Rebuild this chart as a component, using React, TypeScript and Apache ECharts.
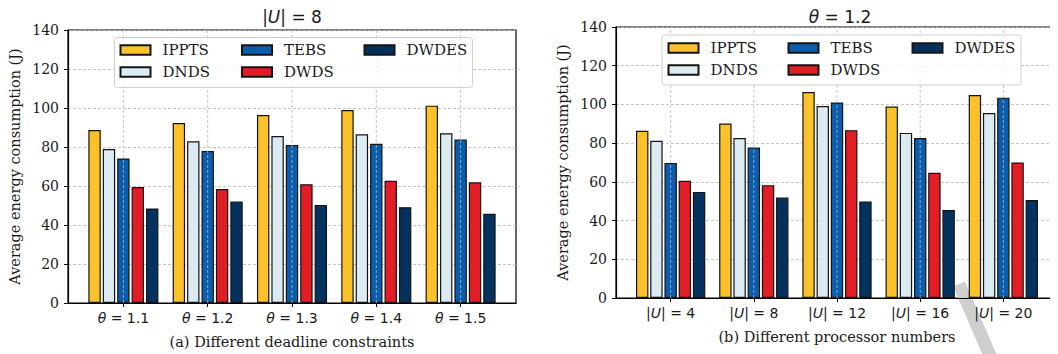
import React, { useEffect, useRef } from "react";
import * as echarts from "echarts";

// ---------------- data ----------------
const seriesNames = ["IPPTS", "DNDS", "TEBS", "DWDS", "DWDES"];
const seriesColors = ["#FDC12A", "#DCEBF2", "#0B5DAE", "#E31D25", "#03325F"];

const thetaLabels = ["1.1", "1.2", "1.3", "1.4", "1.5"]; // chart (a)
const procLabels = ["4", "8", "12", "16", "20"]; // chart (b)

// (a) |U| = 8, different deadline constraints
const ipptsA = [88.7, 92.3, 96.4, 99.0, 101.2];
const dndsA = [79.0, 82.9, 85.6, 86.5, 87.0];
const tebsA = [74.1, 77.9, 81.0, 81.7, 83.9];
const dwdsA = [59.5, 58.5, 60.9, 62.7, 61.9];
const dwdesA = [48.5, 52.0, 50.3, 49.1, 45.8];

// (b) theta = 1.2, different processor numbers
const ipptsB = [86.4, 90.1, 106.4, 98.9, 104.9];
const dndsB = [81.2, 82.6, 99.2, 85.3, 95.6];
const tebsB = [69.8, 77.7, 101.0, 82.6, 103.5];
const dwdsB = [60.6, 58.3, 86.7, 64.7, 70.0];
const dwdesB = [54.8, 51.9, 49.9, 45.4, 50.6];

const yTicks = [0, 20, 40, 60, 80, 100, 120, 140];
const xTickPositions = [0, 1, 2, 3, 4];

const SERIF = "DejaVu Serif";
const SANS = "DejaVu Sans";

export default function App() {
  const ref = useRef<HTMLDivElement>(null);

  useEffect(() => {
    if (!ref.current) return;
    const chart = echarts.init(ref.current, undefined, { renderer: "svg" });

    const dataA = [ipptsA, dndsA, tebsA, dwdsA, dwdesA];
    const dataB = [ipptsB, dndsB, tebsB, dwdsB, dwdesB];
    const pitch = 0.171;

    const grids = [
      { left: 68, top: 30, width: 448, height: 273 },
      { left: 616, top: 27, width: 448, height: 271 },
    ];

    const rich = {
      r: { fontFamily: SANS, fontSize: 14, color: "#1a1a1a" },
      i: { fontFamily: SANS, fontSize: 14, fontStyle: "italic", color: "#1a1a1a" },
    };
    const richT = {
      r: { fontFamily: SANS, fontSize: 17, fontWeight: "normal", color: "#1a1a1a" },
      i: { fontFamily: SANS, fontSize: 17, fontWeight: "normal", fontStyle: "italic", color: "#1a1a1a" },
    };

    const gridLineStyle = { color: "#b8b8b8", width: 0.8, type: [3, 2] };

    const makeX = (idx: number, labels: string[], caption: string, kind: "theta" | "U") => ({
      type: "value",
      gridIndex: idx,
      min: -0.657,
      max: 4.657,
      name: caption,
      nameLocation: "middle",
      nameGap: 31,
      nameTextStyle: { fontFamily: SERIF, fontSize: 14.5, color: "#1a1a1a" },
      axisLine: { show: true, onZero: false, lineStyle: { color: "#000", width: 1.2 } },
      axisTick: {
        show: true,
        length: 4,
        customValues: xTickPositions,
        lineStyle: { color: "#000", width: 1 },
      },
      axisLabel: {
        customValues: xTickPositions,
        margin: 8,
        formatter: (v: number) => {
          const lab = labels[Math.round(v)];
          return kind === "theta" ? `{i|θ}{r| = ${lab}}` : `{r||}{i|U}{r|| = ${lab}}`;
        },
        rich,
      },
      splitLine: { show: false },
    });

    const makeY = (idx: number) => ({
      type: "value",
      gridIndex: idx,
      min: 0,
      max: 140,
      interval: 20,
      name: "Average energy consumption (J)",
      nameLocation: "middle",
      nameGap: 46,
      nameTextStyle: { fontFamily: SERIF, fontSize: 14.5, color: "#1a1a1a" },
      axisLine: { show: true, onZero: false, lineStyle: { color: "#000", width: 1.2 } },
      axisTick: { show: true, length: 4, lineStyle: { color: "#000", width: 1 } },
      axisLabel: {
        margin: 9,
        fontFamily: SERIF,
        fontSize: 14,
        color: "#1a1a1a",
        formatter: (v: number) => (yTicks.includes(v) ? String(v) : ""),
      },
      splitLine: { show: true, lineStyle: gridLineStyle },
    });

    const series: any[] = [];
    [dataA, dataB].forEach((set, c) => {
      set.forEach((vals, k) => {
        series.push({
          type: "bar",
          name: seriesNames[k],
          xAxisIndex: c,
          yAxisIndex: c,
          barWidth: 12.4,
          barGap: "-100%",
          z: 2,
          itemStyle: {
            color: seriesColors[k],
            borderColor: "#141414",
            borderWidth: 1.2,
          },
          data: vals.map((v, i) => [i + (k - 2) * pitch, v]),
        });
      });
      // vertical grid lines at the category ticks, drawn over the bars
      series.push({
        type: "custom",
        name: "vgrid" + c,
        xAxisIndex: c,
        yAxisIndex: c,
        silent: true,
        z: 4,
        data: xTickPositions.map((x) => [x, 0]),
        encode: { x: 0, y: 1 },
        renderItem: (params: any, api: any) => {
          const x = api.value(0);
          const p0 = api.coord([x, 0]);
          const p1 = api.coord([x, 140]);
          return {
            type: "line",
            shape: { x1: p0[0], y1: p0[1], x2: p1[0], y2: p1[1] },
            style: { stroke: "#b8b8b8", lineWidth: 0.8, lineDash: [3, 2], fill: null },
          };
        },
      });
    });

    const legendCols = [
      ["IPPTS", "DNDS"],
      ["TEBS", "DWDS"],
      ["DWDES"],
    ];
    const legendLefts = [
      [119.5, 241, 363.5],
      [667.5, 787.5, 911.5],
    ];
    const legendTops = [42.5, 40.5];
    const legends: any[] = [];
    [0, 1].forEach((c) => {
      legendCols.forEach((names, j) => {
        legends.push({
          data: names,
          orient: "vertical",
          left: legendLefts[c][j],
          top: legendTops[c],
          padding: 0,
          itemGap: 7,
          itemWidth: 30,
          itemHeight: 9.5,
          icon: "rect",
          selectedMode: false,
          z: 6,
          textStyle: {
            fontFamily: SERIF,
            fontSize: 15,
            color: "#1a1a1a",
            padding: [0, 0, 0, 7],
          },
        });
      });
    });

    chart.setOption({
      animation: false,
      backgroundColor: "#ffffff",
      title: [
        {
          text: "{r||}{i|U}{r|| = 8}",
          left: 292,
          top: 8,
          padding: 0,
          textAlign: "center",
          textVerticalAlign: "top",
          textStyle: { rich: richT, fontWeight: "normal" },
        },
        {
          text: "{i|θ}{r| = 1.2}",
          left: 840,
          top: 8,
          padding: 0,
          textAlign: "center",
          textVerticalAlign: "top",
          textStyle: { rich: richT, fontWeight: "normal" },
        },
      ],
      grid: grids.map((g) => ({
        ...g,
        show: true,
        borderColor: "#000",
        borderWidth: 1.2,
        backgroundColor: "transparent",
      })),
      xAxis: [
        makeX(0, thetaLabels, "(a) Different deadline constraints", "theta"),
        makeX(1, procLabels, "(b) Different processor numbers", "U"),
      ],
      yAxis: [makeY(0), makeY(1)],
      legend: legends,
      graphic: [
        {
          type: "rect",
          z: 5,
          shape: { x: 114.5, y: 37.5, width: 358, height: 50, r: 3 },
          style: { fill: "rgba(255,255,255,0.8)", stroke: "#d0d0d0", lineWidth: 1 },
        },
        {
          type: "rect",
          z: 5,
          shape: { x: 662, y: 35, width: 359, height: 50, r: 3 },
          style: { fill: "rgba(255,255,255,0.8)", stroke: "#d0d0d0", lineWidth: 1 },
        },
        {
          type: "line",
          z: 0,
          shape: { x1: 959, y1: 284, x2: 992, y2: 360 },
          style: { stroke: "#cfcfcf", lineWidth: 13 },
        },
      ],
      series,
    });

    return () => chart.dispose();
  }, []);

  return <div ref={ref} style={{ width: 1058, height: 354, marginLeft: -8, marginTop: -8 }} />;
}
